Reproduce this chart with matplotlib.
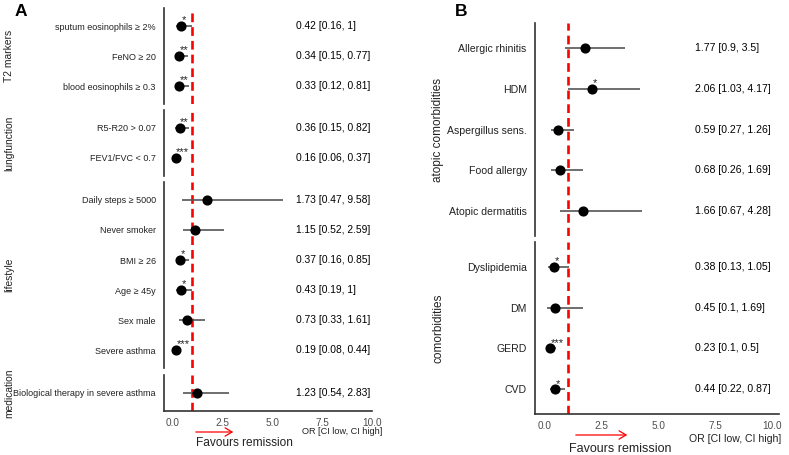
import matplotlib
matplotlib.use("Agg")
import matplotlib.pyplot as plt
from matplotlib.patches import FancyArrowPatch

plt.rcParams['font.family'] = ['Liberation Sans', 'DejaVu Sans']

# ---------------- Panel A data ----------------
a_groups = ["T2 markers", "lungfunction", "lifestyle", "medication"]
a_labels = [
    ["sputum eosinophils ≥ 2%", "FeNO ≥ 20", "blood eosinophils ≥ 0.3"],
    ["R5-R20 > 0.07", "FEV1/FVC < 0.7"],
    ["Daily steps ≥ 5000", "Never smoker", "BMI ≥ 26", "Age ≥ 45y", "Sex male", "Severe asthma"],
    ["Biological therapy in severe asthma"],
]
a_or = [[0.42, 0.34, 0.33], [0.36, 0.16], [1.73, 1.15, 0.37, 0.43, 0.73, 0.19], [1.23]]
a_lo = [[0.16, 0.15, 0.12], [0.15, 0.06], [0.47, 0.52, 0.16, 0.19, 0.33, 0.08], [0.54]]
a_hi = [[1.0, 0.77, 0.81], [0.82, 0.37], [9.58, 2.59, 0.85, 1.0, 1.61, 0.44], [2.83]]
a_ci_cap = 5.55  # the drawn CI line of panel A stops here
a_sig = [["*", "**", "**"], ["**", "***"], ["", "", "*", "*", "", "***"], [""]]
a_txt = [["0.42 [0.16, 1]", "0.34 [0.15, 0.77]", "0.33 [0.12, 0.81]"],
         ["0.36 [0.15, 0.82]", "0.16 [0.06, 0.37]"],
         ["1.73 [0.47, 9.58]", "1.15 [0.52, 2.59]", "0.37 [0.16, 0.85]",
          "0.43 [0.19, 1]", "0.73 [0.33, 1.61]", "0.19 [0.08, 0.44]"],
         ["1.23 [0.54, 2.83]"]]

# ---------------- Panel B data ----------------
b_groups = ["atopic comorbidities", "comorbidities"]
b_labels = [
    ["Allergic rhinitis", "HDM", "Aspergillus sens.", "Food allergy", "Atopic dermatitis"],
    ["Dyslipidemia", "DM", "GERD", "CVD"],
]
b_or = [[1.77, 2.06, 0.59, 0.68, 1.66], [0.38, 0.45, 0.23, 0.44]]
b_lo = [[0.9, 1.03, 0.27, 0.26, 0.67], [0.13, 0.1, 0.1, 0.22]]
b_hi = [[3.5, 4.17, 1.26, 1.69, 4.28], [1.05, 1.69, 0.5, 0.87]]
b_sig = [["", "*", "", "", ""], ["*", "", "***", "*"]]
b_txt = [["1.77 [0.9, 3.5]", "2.06 [1.03, 4.17]", "0.59 [0.27, 1.26]",
          "0.68 [0.26, 1.69]", "1.66 [0.67, 4.28]"],
         ["0.38 [0.13, 1.05]", "0.45 [0.1, 1.69]", "0.23 [0.1, 0.5]", "0.44 [0.22, 0.87]"]]

xticks = [0.0, 2.5, 5.0, 7.5, 10.0]
xticklabels = ["0.0", "2.5", "5.0", "7.5", "10.0"]

W, H = 789, 455
fig = plt.figure(figsize=(W / 100, H / 100), dpi=100)

GREY = "#4d4d4d"


def px_axes(x0, x1, y0, y1):
    return fig.add_axes([x0 / W, 1 - y1 / H, (x1 - x0) / W, (y1 - y0) / H])


def draw_panel(groups, labels, ors, los, his, sigs, txts, xpix, ybounds, xlim,
               txt_x, strip_x, label_fs, txt_fs, strip_fs, cap=None):
    for gi, g in enumerate(groups):
        y0, y1 = ybounds[gi]
        ax = px_axes(xpix[0], xpix[1], y0, y1)
        n = len(labels[gi])
        ys = list(range(n))
        ax.set_ylim(n - 1 + 0.6, -0.6)
        ax.set_xlim(*xlim)
        ax.axvline(1, color="#ff0000", lw=1.9, linestyle=(0, (3.3, 1.9)), zorder=1)
        hi = his[gi] if cap is None else [min(h, cap) for h in his[gi]]
        ax.hlines(ys, los[gi], hi, color="#555555", lw=1.2, zorder=2)
        ax.plot(ors[gi], ys, "o", color="black", ms=6.3, zorder=3)
        for y, o, s, t in zip(ys, ors[gi], sigs[gi], txts[gi]):
            if s:
                ax.annotate(s, (o, y), xytext=(0.5, 0.5), textcoords="offset points",
                            ha="left", va="bottom", fontsize=8, color="#222222")
            ax.text(txt_x, y, t, ha="left", va="center", fontsize=txt_fs, color="black")
        ax.set_yticks(ys)
        ax.set_yticklabels(labels[gi], fontsize=label_fs, color="#222222")
        ax.tick_params(axis="y", length=0, pad=6)
        for sp in ["top", "right"]:
            ax.spines[sp].set_visible(False)
        ax.spines["left"].set_color("#333333")
        ax.spines["left"].set_linewidth(1.2)
        if gi == len(groups) - 1:
            ax.spines["bottom"].set_color("#333333")
            ax.spines["bottom"].set_linewidth(1.2)
            ax.set_xticks(xticks)
            ax.set_xticklabels(xticklabels, fontsize=7.2, color=GREY)
            ax.tick_params(axis="x", length=0, pad=5)
        else:
            ax.spines["bottom"].set_visible(False)
            ax.set_xticks([])
        ax.patch.set_alpha(0)
        fig.text(strip_x / W, 1 - ((y0 + y1) / 2) / H, g, rotation=90,
                 ha="center", va="center", fontsize=strip_fs, color="#222222")


draw_panel(a_groups, a_labels, a_or, a_lo, a_hi, a_sig, a_txt,
           (164, 372), [(8, 104), (110, 176), (182, 368), (375, 411)],
           (-0.42, 10.0), 6.2, 9, 6.5, 7.4, 7.4, cap=a_ci_cap)
draw_panel(b_groups, b_labels, b_or, b_lo, b_hi, b_sig, b_txt,
           (535, 779), [(23, 236), (242, 414)],
           (-0.44, 10.3), 6.6, 438, 7.6, 7.6, 8.5)

# panel letters
fig.text(15 / W, 1 - 11 / H, "A", fontsize=12.5, fontweight="bold", ha="left", va="center")
fig.text(455 / W, 1 - 11 / H, "B", fontsize=12.5, fontweight="bold", ha="left", va="center")

# axis titles
fig.text(382 / W, 1 - 432 / H, "OR [CI low, CI high]", fontsize=6.6, ha="right", va="center", color="#222222")
fig.text(781 / W, 1 - 439 / H, "OR [CI low, CI high]", fontsize=7.6, ha="right", va="center", color="#222222")

fig.text(244 / W, 1 - 443 / H, "Favours remission", fontsize=8.6, ha="center", va="center", color="#222222")
fig.text(620 / W, 1 - 449 / H, "Favours remission", fontsize=9.0, ha="center", va="center", color="#222222")

for (x0, x1, y) in [(193, 236, 432), (573, 630, 435)]:
    arr = FancyArrowPatch((x0 / W, 1 - y / H), (x1 / W, 1 - y / H),
                          transform=fig.transFigure, arrowstyle="->,head_length=5,head_width=3",
                          color="#ff0000", lw=0.9)
    fig.patches.append(arr)

fig.savefig("out.png", dpi=100)
